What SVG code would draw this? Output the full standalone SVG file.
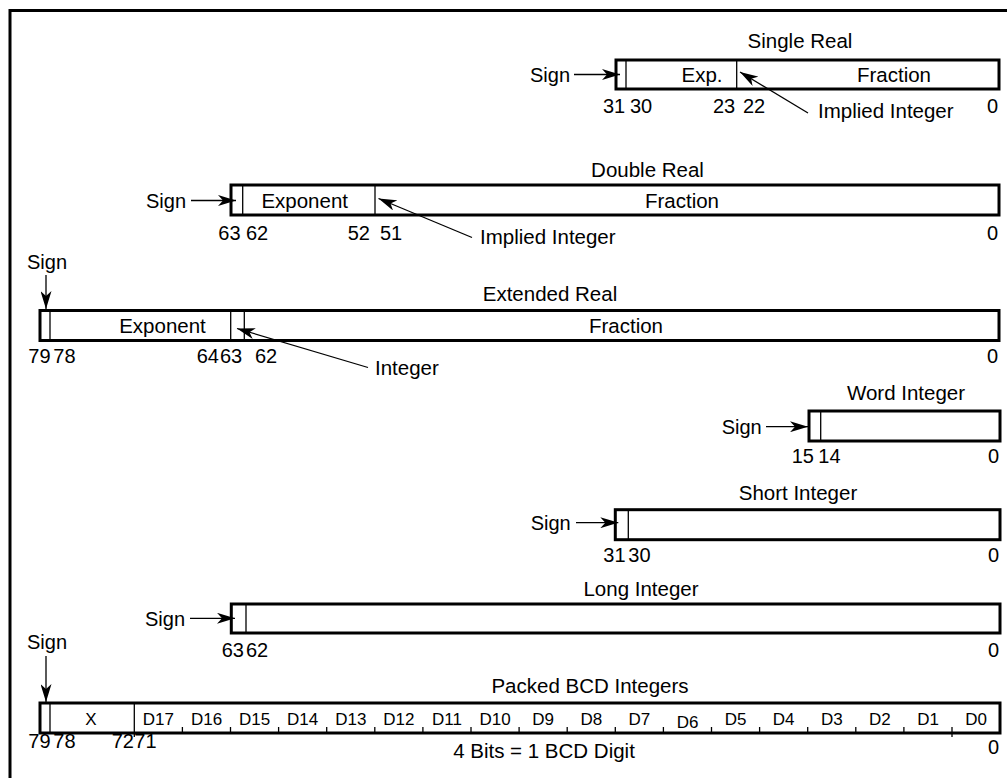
<svg xmlns="http://www.w3.org/2000/svg" width="1007" height="778" viewBox="0 0 1007 778">
<style>
text{font-family:"Liberation Sans",Arial,sans-serif;font-size:20.5px;fill:#000}
.n{font-size:20px}
.c{text-anchor:middle}
.e{text-anchor:end}
.d{font-size:17px;text-anchor:middle}
.box{fill:#fff;stroke:#000;stroke-width:3}
.div{stroke:#000;stroke-width:1.3}
.arr{stroke:#000;stroke-width:1.3;fill:none;marker-end:url(#ah)}
.frame{fill:none;stroke:#000;stroke-width:3}
</style>
<defs>
<marker id="ah" viewBox="0 0 18 11" refX="18" refY="5.5" markerWidth="18" markerHeight="11" orient="auto" markerUnits="userSpaceOnUse">
<path d="M0,0 L18,5.5 L0,11 L5,5.5 Z" fill="#000"/>
</marker>
</defs>
<rect width="1007" height="778" fill="#fff"/>
<path class="frame" d="M10,778 V10.5 H1007"/>

<g id="single-real">
<text class="c" x="800" y="48">Single Real</text>
<rect class="box" x="616" y="60" width="383" height="29"/>
<line class="div" x1="626" y1="60" x2="626" y2="89"/>
<line class="div" x1="736.7" y1="60" x2="736.7" y2="89"/>
<text class="c" x="702" y="82">Exp.</text>
<text class="c" x="894" y="82">Fraction</text>
<text class="n" x="530" y="82">Sign</text>
<text class="n" x="603" y="113">31</text>
<text class="n" x="630" y="113">30</text>
<text class="n" x="713" y="113">23</text>
<text class="n" x="743" y="113">22</text>
<text class="n e" x="998" y="113">0</text>
<text x="818" y="118">Implied Integer</text>
</g>

<g id="double-real">
<text class="c" x="647.5" y="177">Double Real</text>
<rect class="box" x="231" y="185" width="768" height="30"/>
<line class="div" x1="242.7" y1="185" x2="242.7" y2="215"/>
<line class="div" x1="375" y1="185" x2="375" y2="215"/>
<text class="c" x="304.7" y="208">Exponent</text>
<text class="c" x="682" y="208">Fraction</text>
<text class="n" x="146" y="208">Sign</text>
<text class="n" x="218.3" y="239.5">63</text>
<text class="n" x="246" y="239.5">62</text>
<text class="n" x="347.7" y="239.5">52</text>
<text class="n" x="380" y="239.5">51</text>
<text class="n e" x="998" y="239.5">0</text>
<text x="480" y="244">Implied Integer</text>
</g>

<g id="extended-real">
<text class="n" x="27" y="269">Sign</text>
<text class="c" x="550" y="301">Extended Real</text>
<rect class="box" x="40" y="310.5" width="959" height="30"/>
<line class="div" x1="50" y1="310.5" x2="50" y2="340.5"/>
<line class="div" x1="230.7" y1="310.5" x2="230.7" y2="340.5"/>
<line class="div" x1="244.3" y1="310.5" x2="244.3" y2="340.5"/>
<text class="c" x="162.5" y="333">Exponent</text>
<text class="c" x="626" y="333">Fraction</text>
<text class="n" x="28.3" y="363">79</text>
<text class="n" x="53.3" y="363">78</text>
<text class="n" x="196.7" y="363">64</text>
<text class="n" x="220" y="363">63</text>
<text class="n" x="255" y="363">62</text>
<text class="n e" x="998" y="363">0</text>
<text x="375" y="375">Integer</text>
</g>

<g id="word-integer">
<text class="c" x="906" y="400">Word Integer</text>
<rect class="box" x="809" y="411" width="191" height="30"/>
<line class="div" x1="820.7" y1="411" x2="820.7" y2="441"/>
<text class="n" x="721.7" y="434">Sign</text>
<text class="n" x="791.7" y="463">15</text>
<text class="n" x="818.3" y="463">14</text>
<text class="n e" x="999" y="463">0</text>
</g>

<g id="short-integer">
<text class="c" x="798" y="500">Short Integer</text>
<rect class="box" x="615.3" y="509.7" width="384.7" height="30"/>
<line class="div" x1="628.3" y1="509.7" x2="628.3" y2="539.7"/>
<text class="n" x="530.7" y="530">Sign</text>
<text class="n" x="603.3" y="561.7">31</text>
<text class="n" x="628.3" y="561.7">30</text>
<text class="n e" x="999" y="561.7">0</text>
</g>

<g id="long-integer">
<text class="c" x="641" y="596">Long Integer</text>
<rect class="box" x="231.3" y="604" width="768.7" height="29"/>
<line class="div" x1="246" y1="604" x2="246" y2="633"/>
<text class="n" x="145" y="626">Sign</text>
<text class="n" x="221.7" y="657">63</text>
<text class="n" x="246" y="657">62</text>
<text class="n e" x="999" y="657">0</text>
</g>

<g id="packed-bcd">
<text class="n" x="27" y="649">Sign</text>
<text class="c" x="590" y="693">Packed BCD Integers</text>
<rect class="box" x="40" y="703" width="960" height="30"/>
<line class="div" x1="50" y1="703" x2="50" y2="733"/>
<line class="div" x1="134.3" y1="703" x2="134.3" y2="737"/>
<text class="d" x="91" y="725">X</text>
<g class="div">
<line x1="182.4" y1="727" x2="182.4" y2="733"/>
<line x1="230.5" y1="727" x2="230.5" y2="733"/>
<line x1="278.6" y1="727" x2="278.6" y2="733"/>
<line x1="326.7" y1="727" x2="326.7" y2="733"/>
<line x1="374.8" y1="727" x2="374.8" y2="733"/>
<line x1="422.9" y1="727" x2="422.9" y2="733"/>
<line x1="471" y1="727" x2="471" y2="733"/>
<line x1="519.1" y1="727" x2="519.1" y2="733"/>
<line x1="567.2" y1="727" x2="567.2" y2="733"/>
<line x1="615.3" y1="727" x2="615.3" y2="733"/>
<line x1="663.4" y1="727" x2="663.4" y2="733"/>
<line x1="711.5" y1="727" x2="711.5" y2="733"/>
<line x1="759.6" y1="727" x2="759.6" y2="733"/>
<line x1="807.7" y1="727" x2="807.7" y2="733"/>
<line x1="855.8" y1="727" x2="855.8" y2="733"/>
<line x1="903.9" y1="727" x2="903.9" y2="733"/>
<line x1="952" y1="727" x2="952" y2="737"/>
</g>
<text class="d" x="158.4" y="725">D17</text>
<text class="d" x="206.5" y="725">D16</text>
<text class="d" x="254.6" y="725">D15</text>
<text class="d" x="302.7" y="725">D14</text>
<text class="d" x="350.8" y="725">D13</text>
<text class="d" x="398.9" y="725">D12</text>
<text class="d" x="447" y="725">D11</text>
<text class="d" x="495.1" y="725">D10</text>
<text class="d" x="543.2" y="725">D9</text>
<text class="d" x="591.3" y="725">D8</text>
<text class="d" x="639.4" y="725">D7</text>
<text class="d" x="687.5" y="728">D6</text>
<text class="d" x="735.6" y="725">D5</text>
<text class="d" x="783.7" y="725">D4</text>
<text class="d" x="831.8" y="725">D3</text>
<text class="d" x="879.9" y="725">D2</text>
<text class="d" x="928" y="725">D1</text>
<text class="d" x="976.1" y="725">D0</text>
<text class="n" x="28.3" y="748">79</text>
<text class="n" x="53.3" y="748">78</text>
<text class="n" x="111.7" y="748">72</text>
<text class="n" x="134.3" y="748">71</text>
<text class="n e" x="999" y="754">0</text>
<text class="c" x="544" y="758">4 Bits = 1 BCD Digit</text>
</g>

<g id="connectors">
<line class="arr" x1="574" y1="74.5" x2="620" y2="74.5"/>
<line class="arr" x1="808" y1="113" x2="740" y2="72"/>
<line class="arr" x1="191" y1="200.5" x2="236" y2="200.5"/>
<line class="arr" x1="472" y1="237.5" x2="378.5" y2="198.5"/>
<line class="arr" x1="46" y1="275" x2="46" y2="309"/>
<line class="arr" x1="368" y1="367.5" x2="237" y2="328.5"/>
<line class="arr" x1="766" y1="426.7" x2="808" y2="426.7"/>
<line class="arr" x1="576" y1="522.7" x2="618.3" y2="522.7"/>
<line class="arr" x1="190" y1="618.3" x2="235" y2="618.3"/>
<line class="arr" x1="46" y1="656" x2="46" y2="702"/>
</g>
</svg>
